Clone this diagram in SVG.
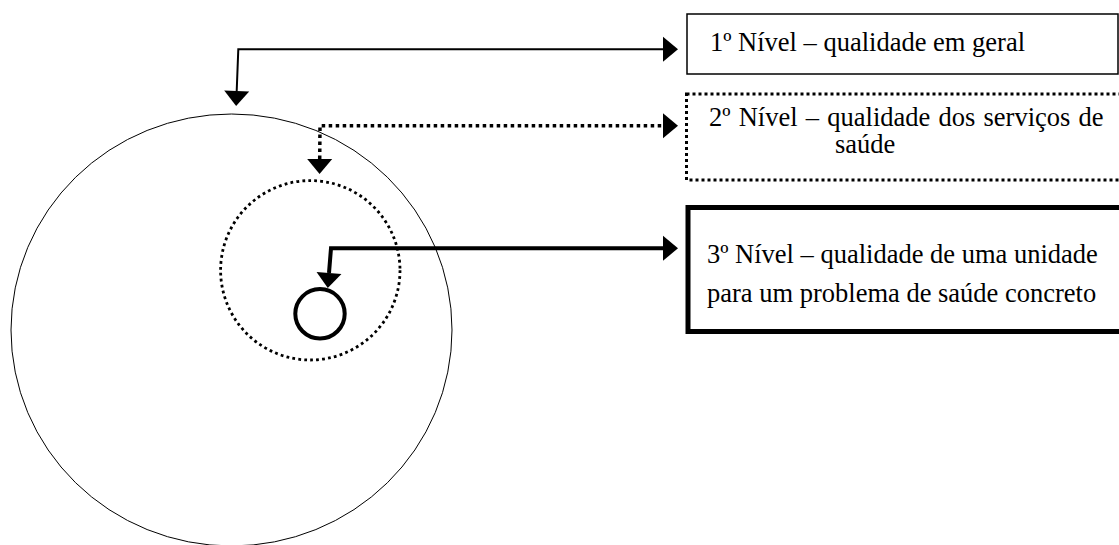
<svg xmlns="http://www.w3.org/2000/svg" width="1119" height="545" viewBox="0 0 1119 545">
  <style>
    .lbl { font-family: "Liberation Serif", "Times New Roman", serif; font-size: 26.5px; fill: #000; }
    .wire { fill: none; stroke: #000; }
  </style>
  <defs>
    <marker id="head" markerUnits="userSpaceOnUse" markerWidth="20" markerHeight="30" refX="0" refY="0" orient="auto-start-reverse" overflow="visible">
      <path d="M0,-12.5 L15,0 L0,12.5 Z" fill="#000"/>
    </marker>
  </defs>
  <rect width="1119" height="545" fill="#fff"/>

  <!-- nested scopes -->
  <g id="scope-general">
    <ellipse cx="231.5" cy="330" rx="220.5" ry="216" fill="none" stroke="#000" stroke-width="1"/>
  </g>
  <g id="scope-services">
    <circle cx="310.3" cy="270.3" r="89.7" fill="none" stroke="#000" stroke-width="2.8" stroke-dasharray="2.8 3.2"/>
  </g>
  <g id="scope-unit">
    <circle cx="320" cy="313.8" r="24.7" fill="none" stroke="#000" stroke-width="4"/>
  </g>

  <!-- level boxes -->
  <g id="level-1">
    <rect x="687" y="14" width="431" height="60" fill="none" stroke="#000" stroke-width="1.5"/>
    <text class="lbl" x="710" y="50.7">1º Nível – qualidade em geral</text>
  </g>
  <g id="level-2">
    <rect x="686.5" y="94" width="440" height="86" fill="none" stroke="#000" stroke-width="3" stroke-dasharray="3 3"/>
    <text class="lbl" x="709" y="126" word-spacing="1.6">2º Nível – qualidade dos serviços de</text>
    <text class="lbl" x="835" y="153.3">saúde</text>
  </g>
  <g id="level-3">
    <rect x="688" y="207.5" width="440" height="124" fill="none" stroke="#000" stroke-width="5"/>
    <text class="lbl" x="707" y="263.3">3º Nível – qualidade de uma unidade</text>
    <text class="lbl" x="707" y="301.7">para um problema de saúde concreto</text>
  </g>

  <!-- connectors -->
  <g id="connectors">
    <path class="wire" d="M236.7,91 L238.3,49.3 L663,49.3" stroke-width="2" marker-start="url(#head)" marker-end="url(#head)"/>
    <path class="wire" d="M319.7,159 L320,125.7 L663,125.7" stroke-width="3.5" stroke-dasharray="3.5 3.5" marker-start="url(#head)" marker-end="url(#head)"/>
    <path class="wire" d="M329,273 L331,248.3 L663,248.3" stroke-width="4" marker-start="url(#head)" marker-end="url(#head)"/>
  </g>
</svg>
